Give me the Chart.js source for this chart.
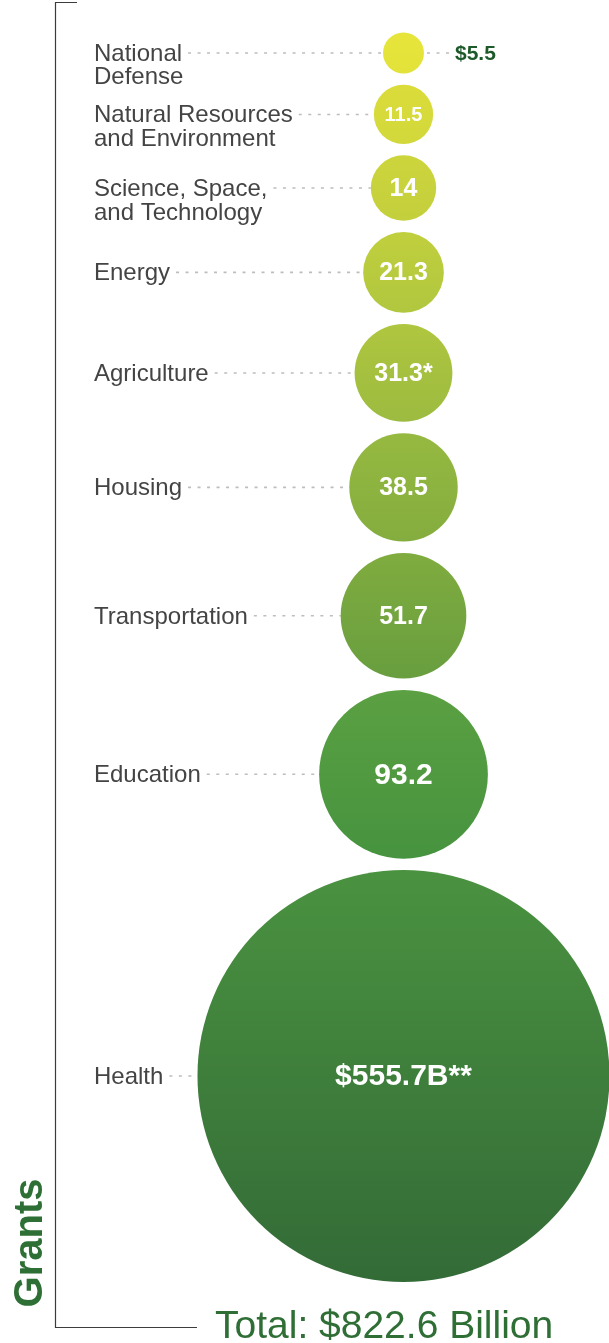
<!DOCTYPE html>
<html>
<head>
<meta charset="utf-8">
<title>Grants by Function</title>
<script src="https://cdn.jsdelivr.net/npm/chart.js@4.4.1/dist/chart.umd.min.js"></script>
<style>
  html, body { margin: 0; padding: 0; background: #fff; }
  canvas { display: block; }
</style>
</head>
<body>
<canvas id="grantsChart" width="609" height="1343"></canvas>
<script>
// grants by function, $ billions
const categories = [
  ['National', 'Defense'],
  ['Natural Resources', 'and Environment'],
  ['Science, Space,', 'and Technology'],
  ['Energy'],
  ['Agriculture'],
  ['Housing'],
  ['Transportation'],
  ['Education'],
  ['Health']
];
const grants = [5.5, 11.5, 14, 21.3, 31.3, 38.5, 51.7, 93.2, 555.7];
const footnotes = ['', '', '', '', '*', '', '', '', '**'];
const totalGrants = 822.6;

// top / bottom shade of each bubble
const topShades = ['#e7e53b', '#dbdc3a', '#cdd53c', '#c0cf3d', '#afc63f', '#96b940', '#80ac3f', '#5ba042', '#4a9240'];
const bottomShades = ['#e2e23a', '#d2d83b', '#c3cf3c', '#b1c73f', '#9cbb40', '#84ad3f', '#689e3f', '#46933f', '#336b37'];

const PX_PER_ROOT = 8.74;   // bubble area proportional to value
const TOP_MARGIN = 32.5;
const GAP = 11.3;
const LABEL_X = 94;
const LABEL_FONT = '24px "Liberation Sans", Arial, sans-serif';
const H = 1343;

// stack the bubbles top to bottom, each one a fixed gap below the last
const radii = grants.map(v => PX_PER_ROOT * Math.sqrt(v));
const rowY = [];
let cursor = TOP_MARGIN;
radii.forEach(r => { rowY.push(cursor + r); cursor += 2 * r + GAP; });

function valueText(i) {
  const last = grants.length - 1;
  const dollar = (i === 0 || i === last) ? '$' : '';
  const unit = i === last ? 'B' : '';
  return dollar + grants[i] + unit + footnotes[i];
}

function bubbleFill(context) {
  const i = context.dataIndex;
  const raw = context.raw;
  if (!raw) return topShades[i] || '#8cb240';
  const yScale = context.chart.scales.y;
  let cy = yScale ? yScale.getPixelForValue(raw.y) : NaN;
  if (!isFinite(cy)) cy = raw.y;   // y axis runs 0..H over the full canvas
  const g = context.chart.ctx.createLinearGradient(0, cy - raw.r, 0, cy + raw.r);
  g.addColorStop(0, topShades[i]);
  g.addColorStop(1, bottomShades[i]);
  return g;
}

const labelPlugin = {
  id: 'grantLabels',
  beforeDatasetsDraw(chart) {
    const { ctx } = chart;
    const pts = chart.getDatasetMeta(0).data;
    ctx.save();
    ctx.font = LABEL_FONT;
    ctx.strokeStyle = '#bdbdbd';
    ctx.lineWidth = 1.6;
    ctx.setLineDash([3, 6.5]);
    pts.forEach((pt, i) => {
      const r = pt.options.radius;
      const start = LABEL_X + ctx.measureText(categories[i][0]).width + 6;
      ctx.beginPath();
      ctx.moveTo(start, pt.y);
      ctx.lineTo(pt.x - r, pt.y);
      if (r < 25) {
        ctx.moveTo(pt.x + r + 3, pt.y);
        ctx.lineTo(pt.x + r + 27, pt.y);
      }
      ctx.stroke();
    });
    ctx.restore();
  },
  afterDatasetsDraw(chart) {
    const { ctx } = chart;
    const pts = chart.getDatasetMeta(0).data;
    ctx.save();

    // category names
    ctx.font = LABEL_FONT;
    ctx.fillStyle = '#444444';
    ctx.textAlign = 'left';
    ctx.textBaseline = 'alphabetic';
    pts.forEach((pt, i) => {
      categories[i].forEach((line, k) => {
        ctx.fillText(line, LABEL_X, pt.y + 8 + k * 23.5);
      });
    });

    // values
    pts.forEach((pt, i) => {
      const r = pt.options.radius;
      const txt = valueText(i);
      if (r < 25) {
        ctx.font = 'bold 21px "Liberation Sans", Arial, sans-serif';
        ctx.fillStyle = '#1d5a2a';
        ctx.textAlign = 'left';
        ctx.textBaseline = 'middle';
        ctx.fillText(txt, pt.x + r + 31, pt.y + 1);
        return;
      }
      const size = r < 31 ? 20 : (r < 70 ? 25 : 30);
      ctx.font = 'bold ' + size + 'px "Liberation Sans", Arial, sans-serif';
      ctx.fillStyle = '#ffffff';
      ctx.textAlign = 'center';
      ctx.textBaseline = 'middle';
      ctx.fillText(txt, pt.x, pt.y + 1);
    });

    // bracket down the left side
    ctx.strokeStyle = '#3c3c3c';
    ctx.lineWidth = 1.2;
    ctx.beginPath();
    ctx.moveTo(77, 2.5);
    ctx.lineTo(55.5, 2.5);
    ctx.lineTo(55.5, 1327.5);
    ctx.lineTo(197, 1327.5);
    ctx.stroke();

    // side title
    ctx.save();
    ctx.translate(42, 1243);
    ctx.rotate(-Math.PI / 2);
    ctx.font = 'bold 40px "Liberation Sans", Arial, sans-serif';
    ctx.fillStyle = '#2e6f35';
    ctx.textAlign = 'center';
    ctx.textBaseline = 'alphabetic';
    ctx.fillText('Grants', 0, 0);
    ctx.restore();

    // total
    ctx.font = '39px "Liberation Sans", Arial, sans-serif';
    ctx.fillStyle = '#2f6f36';
    ctx.textAlign = 'left';
    ctx.textBaseline = 'alphabetic';
    ctx.fillText('Total: $' + totalGrants + ' Billion', 215, 1338);

    ctx.restore();
  }
};

new Chart(document.getElementById('grantsChart'), {
  type: 'bubble',
  data: {
    datasets: [{
      label: 'Grants',
      data: grants.map((v, i) => ({ x: 0.5, y: rowY[i], r: radii[i] })),
      backgroundColor: bubbleFill,
      borderWidth: 0,
      clip: false
    }]
  },
  options: {
    responsive: false,
    animation: false,
    events: [],
    layout: { autoPadding: false, padding: { left: 198, right: 0, top: 0, bottom: 0 } },
    scales: {
      x: { display: false, min: 0, max: 1 },
      y: { display: false, min: 0, max: H, reverse: true }
    },
    plugins: {
      legend: { display: false },
      tooltip: { enabled: false }
    }
  },
  plugins: [labelPlugin]
});
</script>
</body>
</html>
